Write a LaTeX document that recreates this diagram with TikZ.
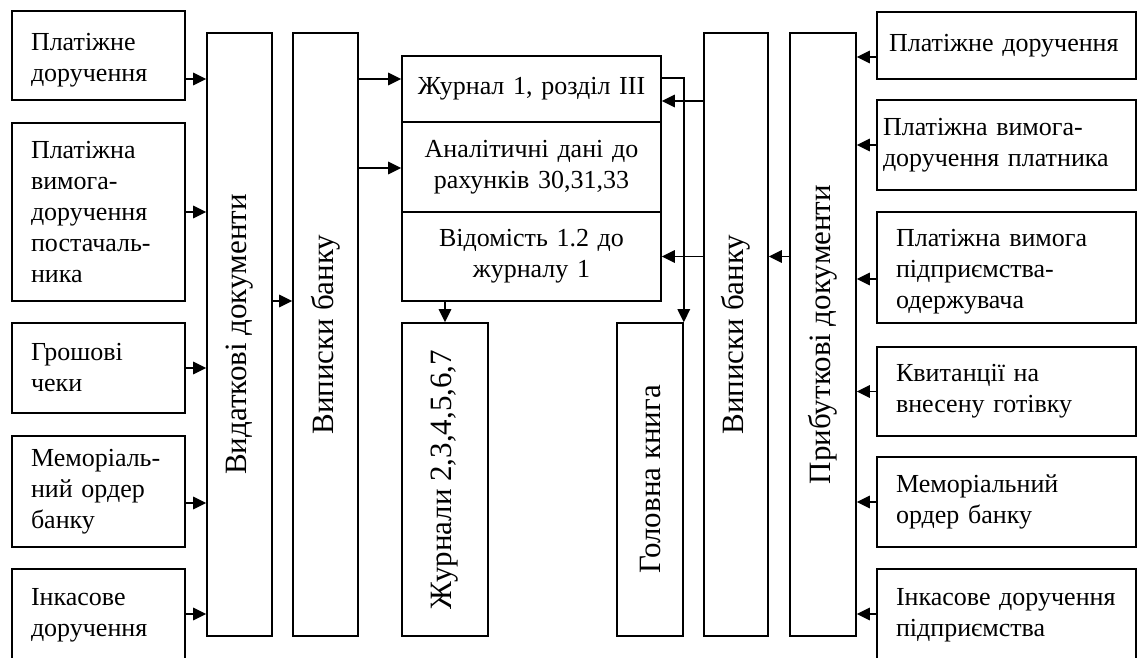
\documentclass[tikz,border=0pt]{standalone}
\usepackage{fontspec}
\setmainfont{Liberation Serif}
\usepackage{graphicx}
\usetikzlibrary{arrows.meta}

\tikzset{
  frame/.style={draw, rectangle, line width=1.6pt, inner ysep=0pt,
    font=\fontsize{26}{31}\selectfont},
  ldoc/.style={frame, inner xsep=19pt, text width=135pt, minimum width=173pt, align=left},
  rdoc/.style={frame, inner xsep=19pt, text width=221pt, minimum width=259pt, align=left},
  cell/.style={frame, inner xsep=9.5pt, text width=240pt, minimum width=259pt, align=center},
  col/.style={draw, rectangle, line width=1.6pt, inner sep=0pt,
    font=\fontsize{31}{35}\selectfont},
  arr/.style={line width=1.5pt, -{Triangle[length=13pt,width=12.5pt]}},
}
% taller first line, pushes a text block a little lower in its box
\newcommand{\lowerline}{\rule{0pt}{26pt}}

\begin{document}
\begin{tikzpicture}[x=1pt,y=-1pt]
\useasboundingbox (0,0) rectangle (1138,657);
\clip (0,0) rectangle (1138,657);

% levels of the horizontal connectors
\coordinate (h57) at (0,57);
\coordinate (h78) at (0,78);
\coordinate (h79) at (0,79);
\coordinate (h101) at (0,101);
\coordinate (h168) at (0,168);
\coordinate (h279) at (0,279);
\coordinate (h301) at (0,301);
\coordinate (h503) at (0,503);
\coordinate (h614) at (0,614);

% outgoing documents
\node[ldoc, minimum height=89pt]  (l1) at (98.5,55.5)  {\lowerline Платіжне\\доручення};
\node[ldoc, minimum height=178pt] (l2) at (98.5,212)   {Платіжна\\вимога-\\доручення\\постачаль-\\ника};
\node[ldoc, minimum height=90pt]  (l3) at (98.5,368)   {Грошові\\чеки};
\node[ldoc, minimum height=111pt] (l4) at (98.5,491.5) {Меморіаль-\\ний ордер\\банку};
\node[ldoc, minimum height=93pt]  (l5) at (98.5,615.5) {Інкасове\\доручення};

% tall columns
\node[col, minimum width=65pt, minimum height=603pt] (vd) at (239.5,334.5) {\rotatebox{90}{Видаткові документи}};
\node[col, minimum width=65pt, minimum height=603pt] (vl) at (325.5,334.5) {\rotatebox{90}{Виписки банку}};

% journal block
\node[cell, minimum height=66pt] (c1) at (531.5,89)    {Журнал 1, розділ III};
\node[cell, minimum height=90pt] (c2) at (531.5,167)   {Аналітичні дані до\\рахунків 30,31,33};
\node[cell, minimum height=89pt] (c3) at (531.5,256.5) {Відомість 1.2 до\\журналу 1};

\node[col, minimum width=86pt, minimum height=313pt] (jr) at (445,479.5) {\rotatebox{90}{Журнали 2,3,4,5,6,7}};
\node[col, minimum width=66pt, minimum height=313pt] (gk) at (650,479.5) {\rotatebox{90}{Головна книга}};

\node[col, minimum width=64pt, minimum height=603pt] (vr) at (736,334.5) {\rotatebox{90}{Виписки банку}};
\node[col, minimum width=66pt, minimum height=603pt] (pr) at (823,334.5) {\rotatebox{90}{Прибуткові документи}};

% incoming documents
\node[rdoc, inner xsep=12pt, text width=235pt, minimum height=67pt] (r1) at (1006.5,45.5) {Платіжне~доручення};
\node[rdoc, inner xsep=6pt, text width=247pt, minimum height=90pt] (r2) at (1006.5,145) {Платіжна~вимога-\\доручення~платника};
\node[rdoc, minimum height=111pt] (r3) at (1006.5,267.5) {\lowerline Платіжна~вимога\\підприємства-\\одержувача};
\node[rdoc, minimum height=89pt]  (r4) at (1006.5,391.5) {Квитанції~на\\внесену~готівку};
\node[rdoc, minimum height=90pt]  (r5) at (1006.5,502)   {Меморіальний\\ордер~банку};
\node[rdoc, minimum height=93pt]  (r6) at (1006.5,615.5) {Інкасове~доручення\\підприємства};

% connectors on the left
\draw[arr] (l1.east |- h79) -- (vd.west |- h79);
\draw[arr] (l2.east) -- (l2.east -| vd.west);
\draw[arr] (l3.east) -- (l3.east -| vd.west);
\draw[arr] (l4.east |- h503) -- (vd.west |- h503);
\draw[arr] (l5.east |- h614) -- (vd.west |- h614);
\draw[arr] (vd.east |- h301) -- (vl.west |- h301);
\draw[arr] (vl.east |- h79) -- (c1.west |- h79);
\draw[arr] (vl.east |- h168) -- (c2.west |- h168);

% connectors in the middle
\draw[arr] (jr.north |- c3.south) -- (jr.north);
\draw[arr] (c1.east |- h78) -| (gk.north east);
\draw[arr] (vr.west |- h101) -- (c1.east |- h101);
\draw[arr] (vr.west |- c3.east) -- (c3.east);
\draw[arr] (pr.west |- c3.east) -- (vr.east |- c3.east);

% connectors on the right
\draw[arr] (r1.west |- h57) -- (pr.east |- h57);
\draw[arr] (r2.west) -- (r2.west -| pr.east);
\draw[arr] (r3.west |- h279) -- (pr.east |- h279);
\draw[arr] (r4.west) -- (r4.west -| pr.east);
\draw[arr] (r5.west) -- (r5.west -| pr.east);
\draw[arr] (r6.west |- h614) -- (pr.east |- h614);
\end{tikzpicture}
\end{document}
